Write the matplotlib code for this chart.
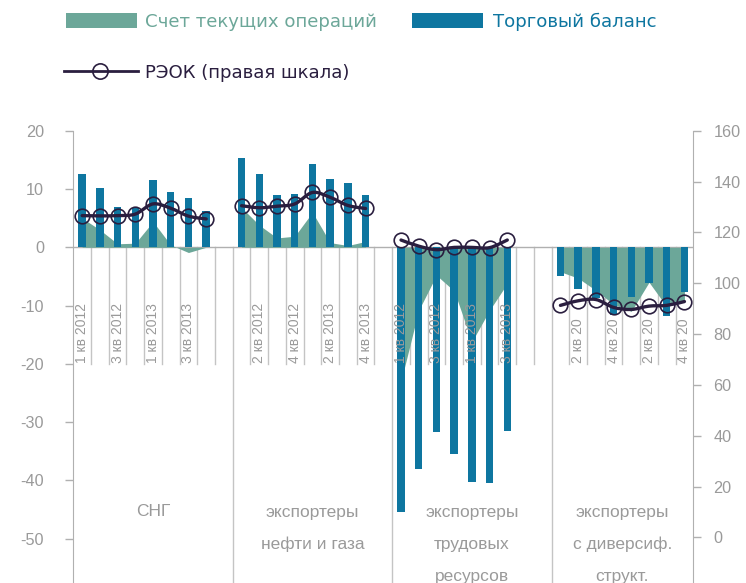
import matplotlib
matplotlib.use('Agg')
import matplotlib.pyplot as plt
from matplotlib.path import Path
from matplotlib.patches import PathPatch, Rectangle
from matplotlib.lines import Line2D
import matplotlib.transforms as mtrans

plt.rcParams['font.family'] = ['Liberation Sans', 'DejaVu Sans']

# ---------------- data ----------------
groups = [['СНГ'],
          ['экспортеры', 'нефти и газа'],
          ['экспортеры', 'трудовых', 'ресурсов'],
          ['экспортеры', 'с диверсиф.', 'структ.']]
quarters = ['1 кв 2012', '2 кв 2012', '3 кв 2012', '4 кв 2012',
            '1 кв 2013', '2 кв 2013', '3 кв 2013', '4 кв 2013']

trade_cis = [12.6, 10.1, 6.9, 6.8, 11.5, 9.4, 8.4, 6.3]
trade_oil = [15.3, 12.6, 9.0, 9.1, 14.3, 11.7, 11.1, 9.0]
trade_labor = [-45.5, -38.0, -31.7, -35.5, -40.3, -40.5, -31.5]
trade_div = [-5.0, -7.2, -8.7, -11.6, -8.6, -6.2, -11.8, -7.6]

ca_cis = [5.0, 3.0, 0.6, 0.7, 4.4, 0.4, -0.9, 0.0]
ca_oil = [6.8, 3.8, 1.6, 1.9, 6.0, 0.8, 0.3, 1.0]
ca_labor = [-23.0, -10.8, -4.8, -7.5, -16.2, -10.8, -6.2]
ca_div = [-4.2, -5.3, -7.4, -9.8, -11.0, -6.0, -10.2, -9.2]

reer_cis = [126.6, 126.5, 126.6, 127.2, 131.2, 129.5, 126.4, 125.3]
reer_oil = [130.5, 129.7, 130.3, 131.2, 135.7, 133.8, 130.6, 129.4]
reer_labor = [117.0, 114.6, 113.2, 114.1, 114.1, 114.0, 117.0]
reer_div = [91.3, 93.1, 93.6, 90.5, 89.7, 91.0, 91.3, 92.8]

trade = [trade_cis, trade_oil, trade_labor, trade_div]
ca = [ca_cis, ca_oil, ca_labor, ca_div]
reer = [reer_cis, reer_oil, reer_labor, reer_div]

left_ticks = [20, 10, 0, -10, -20, -30, -40, -50]
right_ticks = [160, 140, 120, 100, 80, 60, 40, 20, 0]

# ---------------- style ----------------
C_BAR = '#0e76a0'
C_AREA = '#6ca799'
C_LINE = '#2a1e3f'
C_GRID = '#c4c4c4'
C_AXIS = '#b0b0b0'
C_TXT = '#9a9a9a'

W, H = 746, 583
fig = plt.figure(figsize=(W / 100, H / 100), dpi=100)


def fx(px):
    return px / W


def fy(py):
    return 1 - py / H


ax_left_px, ax_right_px, ax_top_px = 73.3, 693.3, 130.7
ax = fig.add_axes([fx(ax_left_px), 0, (ax_right_px - ax_left_px) / W, (H - ax_top_px) / H])
ax.set_facecolor('none')
ax2 = ax.twinx()

GROUP_STEP = 9
n_slots = 35

# area + bars
for g in range(4):
    xs = [g * GROUP_STEP + i for i in range(len(trade[g]))]
    ax.fill_between(xs, 0, ca[g], color=C_AREA, lw=0, zorder=2)
    ax.bar(xs, trade[g], width=0.42, color=C_BAR, zorder=3, lw=0)

# zero line
ax.axhline(0, color=C_AXIS, lw=1.0, zorder=1.5)

# category separators
for k in range(n_slots - 1):
    xb = k + 0.5
    if (k + 1) % GROUP_STEP == 0:
        ax.plot([xb, xb], [0, -60], color=C_GRID, lw=1.0, zorder=1)
    else:
        ax.plot([xb, xb], [0, -20.1], color=C_GRID, lw=1.0, zorder=1)

# quarter labels (every other slot)
for idx in range(0, n_slots, 2):
    g, i = divmod(idx, GROUP_STEP)
    if i >= 8:
        continue
    lab = quarters[i]
    if g == 3:
        lab = lab[:7]
    ax.text(idx, -19.8, lab, rotation=90, ha='center', va='bottom',
            fontsize=10, color=C_TXT, zorder=4)

# group labels
blend = mtrans.blended_transform_factory(ax.transData, fig.transFigure)
group_centers = [4, 13, 22, 30.5]
line_px = [512, 544, 576]
for g, lines in enumerate(groups):
    for j, t in enumerate(lines):
        ax.text(group_centers[g], fy(line_px[j]), t, transform=blend,
                ha='center', va='center', fontsize=12.5, color=C_TXT)


# smoothed line for REER
def smooth_path(xs, ys):
    pts = list(zip(xs, ys))
    n = len(pts)
    verts = [pts[0]]
    codes = [Path.MOVETO]
    for i in range(n - 1):
        p0 = pts[i - 1] if i > 0 else pts[i]
        p1 = pts[i]
        p2 = pts[i + 1]
        p3 = pts[i + 2] if i + 2 < n else pts[i + 1]
        c1 = (p1[0] + (p2[0] - p0[0]) / 6, p1[1] + (p2[1] - p0[1]) / 6)
        c2 = (p2[0] - (p3[0] - p1[0]) / 6, p2[1] - (p3[1] - p1[1]) / 6)
        verts += [c1, c2, p2]
        codes += [Path.CURVE4] * 3
    return Path(verts, codes)


for g in range(4):
    xs = [g * GROUP_STEP + i for i in range(len(reer[g]))]
    ax2.add_patch(PathPatch(smooth_path(xs, reer[g]), fill=False, edgecolor=C_LINE,
                            lw=2.4, capstyle='round', joinstyle='round', zorder=5))
    ax2.plot(xs, reer[g], 'o', ms=10.5, mfc='none', mec=C_LINE, mew=1.2, zorder=6)

# axes limits and ticks
ax.set_xlim(-0.5, n_slots - 0.5)
ax.set_ylim(-57.6, 20)
ax2.set_ylim(-17.9, 160)
ax.set_xticks([])
ax.set_yticks(left_ticks)
ax.set_yticklabels([str(t) for t in left_ticks])
ax2.set_yticks(right_ticks)
ax2.set_yticklabels([str(t) for t in right_ticks])

for a in (ax, ax2):
    for s in ('top', 'bottom'):
        a.spines[s].set_visible(False)
ax.spines['right'].set_visible(False)
ax2.spines['left'].set_visible(False)
ax.spines['left'].set_color(C_AXIS)
ax2.spines['right'].set_color(C_AXIS)
ax.tick_params(axis='y', direction='out', length=6, width=1, color=C_AXIS,
               labelcolor=C_TXT, labelsize=11.7, pad=15)
ax2.tick_params(axis='y', direction='out', length=6, width=1, color=C_AXIS,
                labelcolor=C_TXT, labelsize=11.7, pad=8.5)

# ---------------- legend ----------------
LEG_FS = 13.1
LEG_FONT = ['DejaVu Sans']
fig.patches.append(Rectangle((fx(66), fy(28)), fx(137) - fx(66), fy(13) - fy(28),
                             transform=fig.transFigure, color=C_AREA, lw=0))
fig.text(fx(145), fy(27.3), 'Счет текущих операций', color=C_AREA,
         fontsize=LEG_FS, family=LEG_FONT, va='baseline', ha='left')
fig.patches.append(Rectangle((fx(412), fy(28)), fx(483) - fx(412), fy(13) - fy(28),
                             transform=fig.transFigure, color=C_BAR, lw=0))
fig.text(fx(493), fy(27.3), 'Торговый баланс', color=C_BAR,
         fontsize=LEG_FS, family=LEG_FONT, va='baseline', ha='left')
fig.lines.append(Line2D([fx(64), fx(138)], [fy(71), fy(71)], transform=fig.transFigure,
                        color=C_LINE, lw=2.0))
fig.lines.append(Line2D([fx(100)], [fy(71)], transform=fig.transFigure, marker='o',
                        ms=11, mfc='none', mec=C_LINE, mew=1.2, lw=0))
fig.text(fx(145), fy(78.0), 'РЭОК (правая шкала)', color=C_LINE,
         fontsize=LEG_FS, family=LEG_FONT, va='baseline', ha='left')

fig.savefig('out.png', dpi=100)
